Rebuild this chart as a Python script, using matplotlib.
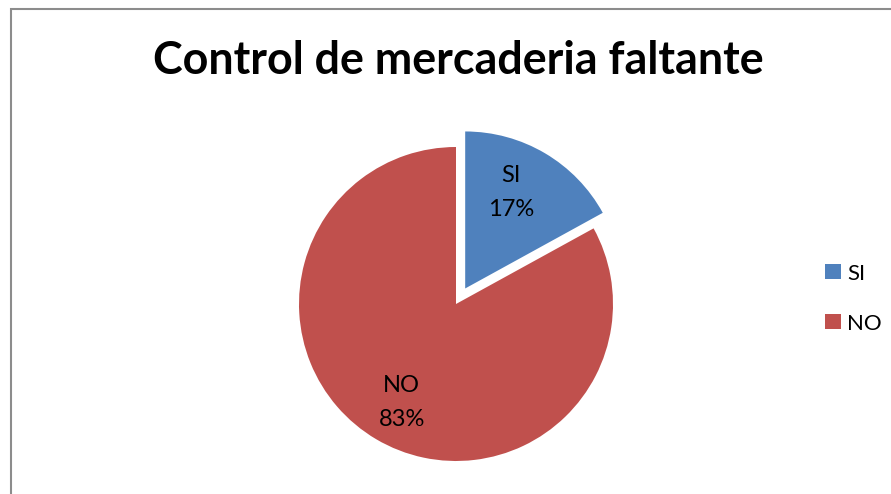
import matplotlib
matplotlib.use("Agg")
import matplotlib.pyplot as plt
from matplotlib.patches import Rectangle

plt.rcParams['font.family'] = ['Lato', 'DejaVu Sans']

title = "Control de mercaderia faltante"
categories = ["SI", "NO"]
values = [17, 83]
colors = ["#4F81BD", "#C0504D"]
explode = [0.115, 0.0]

W, H = 891, 494
fig = plt.figure(figsize=(W / 100, H / 100), dpi=100)
fig.patch.set_facecolor("white")

# chart border (cropped at right/bottom)
fig.patches.append(Rectangle((11 / W, -0.1), 1.2, 1.1 - 9.5 / H,
                             transform=fig.transFigure, fill=False,
                             edgecolor="#8c8c8c", linewidth=1.5))

cx, cy, r = 456, 304, 157
ax = fig.add_axes([(cx - r) / W, (H - cy - r) / H, 2 * r / W, 2 * r / H])

labels_iter = iter(categories)
wedges, texts, autotexts = ax.pie(
    values, colors=colors, explode=explode, startangle=90, counterclock=False,
    autopct=lambda p: f"{next(labels_iter)}\n{p:.0f}%", pctdistance=0.70,
    radius=1.0, wedgeprops=dict(linewidth=0),
    textprops=dict(fontsize=17, color="black", linespacing=1.75))
for w in wedges:
    w.set_clip_on(False)
# small nudges of the data labels, as in the source chart
x0, y0 = autotexts[0].get_position()
autotexts[0].set_position((x0 - 0.065, y0 + 0.01))
x1, y1 = autotexts[1].get_position()
autotexts[1].set_position((x1 + 0.01, y1 - 0.025))
ax.set_xlim(-1, 1)
ax.set_ylim(-1, 1)
ax.axis("off")

fig.text(458 / W, 1 - 61 / H, title, ha="center", va="center",
         fontsize=32.3, fontweight="bold", color="black")

# legend
handles = [Rectangle((0, 0), 1, 1, facecolor=c) for c in colors]
leg = fig.legend(handles, categories, loc="center left",
                 bbox_to_anchor=(805 / W, 1 - 298.5 / H), frameon=False,
                 fontsize=16, handlelength=0.7, handleheight=0.7,
                 handletextpad=0.3, labelspacing=1.35)

fig.savefig("out.png", dpi=100, facecolor="white")
